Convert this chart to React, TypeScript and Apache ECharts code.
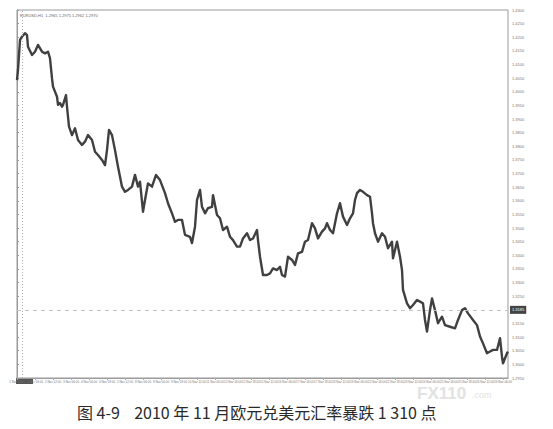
import React, { useEffect, useRef } from "react";
import * as echarts from "echarts";

// Bar index (hourly bars from the start of the chart) and closing price
const barIndex = [
  0, 1, 3, 5, 8, 10, 11, 15, 18, 21, 25, 28, 31, 33, 35, 36, 40, 41, 43, 45,
  46, 49, 50, 52, 55, 58, 61, 65, 68, 71, 75, 78, 81, 85, 88, 90, 92, 95, 98, 101,
  105, 108, 111, 115, 118, 121, 123, 126, 128, 131, 135, 139, 143, 148, 151, 155, 158, 161, 165, 168,
  173, 175, 178, 180, 183, 185, 188, 191, 195, 196, 200, 203, 206, 210, 213, 216, 220, 223, 226, 230,
  233, 236, 240, 241, 243, 246, 250, 253, 256, 260, 263, 265, 268, 271, 275, 278, 281, 285, 288, 291,
  295, 298, 301, 305, 308, 310, 313, 316, 320, 323, 326, 330, 333, 336, 338, 340, 343, 346, 350, 353,
  355, 356, 358, 361, 365, 368, 371, 375, 376, 380, 383, 385, 386, 390, 393, 396, 400, 403, 406, 408,
  410, 413, 415, 418, 421, 425, 428, 433, 438, 441, 445, 448, 451, 456, 460, 463, 466, 470, 473, 476,
  480, 483, 485, 486, 490, 491,
];
const closePrice = [
  1.4043, 1.408, 1.419, 1.4202, 1.4215, 1.4208, 1.4165, 1.4135, 1.4147, 1.4172, 1.4147, 1.4141, 1.4147, 1.4123, 1.4049, 1.4019, 1.3982, 1.3952, 1.3959, 1.3945,
  1.3952, 1.3988, 1.3945, 1.3872, 1.3841, 1.3866, 1.3823, 1.3805, 1.3817, 1.3841, 1.3823, 1.378, 1.3768, 1.375, 1.3731, 1.3786, 1.386, 1.3841, 1.3786, 1.3725,
  1.3652, 1.3633, 1.364, 1.3652, 1.3695, 1.3652, 1.367, 1.356, 1.3603, 1.3664, 1.3652, 1.3695, 1.3676, 1.3628, 1.3591, 1.3554, 1.3523, 1.353, 1.353, 1.3475,
  1.3468, 1.3445, 1.3505, 1.3603, 1.364, 1.3578, 1.3554, 1.3573, 1.3578, 1.3621, 1.3548, 1.3536, 1.3493, 1.3505, 1.3468, 1.3456, 1.3432, 1.3432, 1.3462, 1.3481,
  1.3456, 1.3462, 1.3493, 1.3456, 1.3395, 1.3328, 1.3328, 1.3334, 1.3352, 1.3346, 1.3358, 1.3328, 1.3322, 1.3395, 1.3383, 1.3365, 1.3407, 1.3413, 1.345, 1.3456,
  1.3518, 1.3499, 1.3462, 1.3487, 1.3499, 1.3518, 1.3493, 1.3481, 1.3554, 1.3591, 1.3542, 1.3511, 1.3536, 1.3554, 1.3603, 1.3628, 1.364, 1.3633, 1.3621, 1.3615,
  1.3554, 1.3518, 1.3481, 1.345, 1.3481, 1.3468, 1.3426, 1.345, 1.3389, 1.345, 1.3395, 1.3346, 1.3273, 1.3224, 1.3206, 1.3218, 1.3236, 1.323, 1.3224, 1.3163,
  1.312, 1.3199, 1.3242, 1.3199, 1.3151, 1.3175, 1.3144, 1.3138, 1.3132, 1.3163, 1.3199, 1.3206, 1.3187, 1.3163, 1.3144, 1.3102, 1.3077, 1.3041, 1.3047, 1.3053,
  1.3053, 1.3096, 1.3028, 1.3004, 1.3041, 1.3047,
];
const timeLabels = [
  "1 Nov 2010", "1 Nov 18:00", "2 Nov 12:00", "3 Nov 06:00", "4 Nov 00:00", "4 Nov 18:00", "5 Nov 12:00",
  "8 Nov 06:00", "9 Nov 00:00", "9 Nov 18:00", "10 Nov 12:00", "11 Nov 06:00", "12 Nov 00:00", "12 Nov 18:00",
  "15 Nov 12:00", "16 Nov 06:00", "17 Nov 00:00", "17 Nov 18:00", "18 Nov 12:00", "19 Nov 06:00", "22 Nov 00:00",
  "22 Nov 18:00", "23 Nov 12:00", "24 Nov 06:00", "25 Nov 00:00", "25 Nov 18:00", "26 Nov 12:00", "29 Nov 06:00",
];
const headerText = "EURUSD,H1  1.2965 1.2975 1.2962 1.2970";
const bidPrice = 1.3185;
const separatorBar = 5.7;
const captionText = "图 4-9    2010 年 11 月欧元兑美元汇率暴跌 1 310 点";

export default function App() {
  const ref = useRef<HTMLDivElement>(null);
  useEffect(() => {
    if (!ref.current) return;
    const chart = echarts.init(ref.current, null, { renderer: "svg" });
    const data = barIndex.map((b, i) => [b, closePrice[i]]);
    chart.setOption({
      animation: false,
      backgroundColor: "#ffffff",
      textStyle: { fontFamily: "Liberation Sans" },
      grid: { left: 17, right: 45, top: 10, bottom: 51, show: true, borderColor: "#9a9a9a", borderWidth: 1 },
      xAxis: {
        type: "value",
        min: 0,
        max: 491,
        interval: 18,
        splitLine: { show: false },
        axisLine: { show: true, lineStyle: { color: "#9a9a9a" } },
        axisTick: { show: true, length: 2, lineStyle: { color: "#aaa" } },
        axisLabel: {
          fontSize: 3,
          color: (v: number) => (v === 0 ? "#ffffff" : "#777"),
          margin: 2,
          showMaxLabel: false,
          formatter: (v: number) => timeLabels[Math.round(v / 18)] ?? "",
        },
      },
      yAxis: {
        type: "value",
        position: "right",
        min: 1.295,
        max: 1.43,
        interval: 0.005,
        splitLine: { show: false },
        axisLine: { show: true, lineStyle: { color: "#9a9a9a" } },
        axisTick: { show: true, inside: false, length: 2, lineStyle: { color: "#999" } },
        axisLabel: { fontSize: 4, color: "#777", margin: 4, formatter: (v: number) => v.toFixed(4) },
      },
      series: [
        {
          type: "line",
          data,
          symbol: "none",
          lineStyle: { color: "#404040", width: 2.4, join: "round" },
          markLine: {
            silent: true,
            symbol: "none",
            data: [
              {
                yAxis: bidPrice,
                lineStyle: { color: "#c4c4c4", type: [4, 4], width: 1 },
                label: {
                  show: true,
                  position: "end",
                  formatter: bidPrice.toFixed(4),
                  backgroundColor: "#444",
                  color: "#fff",
                  fontSize: 4,
                  padding: [2, 2],
                  distance: 2,
                },
              },
              {
                xAxis: separatorBar,
                lineStyle: { color: "#b0b0b0", type: [1, 2], width: 1 },
                label: { show: false },
              },
            ],
          },
        },
      ],
      graphic: [
        { type: "text", left: 20, top: 13, style: { text: headerText, fontSize: 4, fill: "#666", fontFamily: "Liberation Sans" } },
        { type: "rect", z: -1, shape: { x: 16, y: 378, width: 17, height: 6 }, style: { fill: "#555" } },
        {
          type: "text",
          left: 417,
          top: 385,
          style: { text: "FX110", fontSize: 17, fontWeight: "bold", fill: "#e2e2e2", fontFamily: "Liberation Sans" },
        },
        {
          type: "text",
          left: 472,
          top: 390,
          style: { text: ".com", fontSize: 9, fill: "#e2e2e2", fontFamily: "Liberation Sans" },
        },
        {
          type: "text",
          left: 77,
          top: 404,
          style: { text: captionText, fontSize: 16, fontWeight: "normal", fill: "#2a2a2a", fontFamily: "Noto Sans CJK SC" },
        },
      ],
    });
    return () => chart.dispose();
  }, []);
  return <div ref={ref} style={{ position: "fixed", left: 0, top: 0, width: 553, height: 429 }} />;
}
